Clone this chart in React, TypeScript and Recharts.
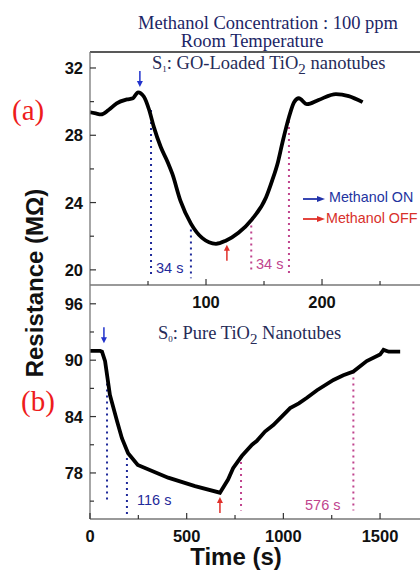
import React from 'react';
import { LineChart, Line, XAxis, YAxis, ReferenceLine, ReferenceDot } from 'recharts';

// (a) S1: GO-loaded TiO2 nanotubes, time (s) vs resistance (MOhm)
const timeA = [0, 5, 9.5, 16, 23, 32, 37, 41.4, 46.5, 51, 55, 61, 67, 71, 78, 87, 96.6, 108.6, 117, 128, 139.6, 151.7, 157, 162, 166, 171.6, 175.9, 180, 187, 197, 212, 223, 235];
const resA = [29.37, 29.3, 29.24, 29.5, 29.9, 30.13, 30.2, 30.55, 30.29, 29.5, 28.5, 27.3, 26.4, 25.7, 24.1, 22.75, 21.9, 21.55, 21.73, 22.2, 23.0, 24.3, 25.3, 26.4, 27.6, 29.1, 29.97, 30.2, 29.85, 30.1, 30.45, 30.33, 29.97];

// (b) S0: pure TiO2 nanotubes
const timeB = [0, 52, 62, 78, 103, 140, 165, 197, 247, 404, 543, 672, 714, 740, 785, 838, 862, 905, 948, 1035, 1080, 1122, 1174, 1259, 1310, 1362, 1431, 1500, 1518, 1545, 1604];
const resB = [91, 91, 90.9, 89.9, 86.3, 83.5, 81.7, 80.1, 78.85, 77.5, 76.6, 75.9, 77.3, 78.5, 79.8, 81.0, 81.4, 82.4, 83.1, 84.9, 85.4, 86.0, 86.8, 87.9, 88.4, 88.8, 89.9, 90.6, 91.1, 90.9, 90.9];

const ticksAy = [20, 22, 24, 26, 28, 30, 32];
const labelsAy = [20, 24, 28, 32];
const ticksAx = [50, 100, 150, 200, 250];
const labelsAx = [100, 200];
const ticksBy = [75, 78, 81, 84, 87, 90, 93, 96];
const labelsBy = [78, 84, 90, 96];
const ticksBx = [0, 250, 500, 750, 1000, 1250, 1500];
const labelsBx = [0, 500, 1000, 1500];

// dotted markers: [time, top, bottom]
const onLinesA = [[52.6, 29.5, 19.6], [87, 22.75, 19.5]];
const offLinesA = [[139, 23.0, 19.9], [171.5, 29.2, 19.6]];
const onLinesB = [[88, 88.8, 75.0], [191, 79.6, 73.5]];
const offLinesB = [[781, 79.8, 74.0], [1362, 88.8, 74.0]];

// arrow tips: [time, value]
const onArrowA = [43, 30.87];
const offArrowA = [118, 21.49];
const onArrowB = [72, 91.8];
const offArrowB = [672, 75.44];

// time labels: [time, value, text]
const gapLabelsA: [number, number, string][] = [[56.9, 20.12, '34 s'], [143.1, 20.36, '34 s']];
const gapLabelsB: [number, number, string][] = [[243, 75.12, '116 s'], [1112, 74.59, '576 s']];

const dataA = timeA.map((t, i) => ({ t, r: resA[i] }));
const dataB = timeB.map((t, i) => ({ t, r: resB[i] }));

const BLUE = '#1f2a9a';
const RED = '#e0302a';
const PINK = '#c0448e';
const AXIS = '#777';
const SANS = '"Liberation Sans", Arial, sans-serif';
const SERIF = '"Liberation Serif", "Times New Roman", serif';

const makeTick = (axis: 'x' | 'y', labeled: number[]) => (props: any) => {
  const { x, y, payload } = props;
  const major = labeled.includes(payload.value);
  const len = major ? 6 : 4;
  if (axis === 'y') {
    return (
      <g>
        <line x1={x} y1={y} x2={x + len} y2={y} stroke="#333" strokeWidth={1.2} />
        {major && (
          <text x={x - 7} y={y} textAnchor="end" dominantBaseline="central"
            fontFamily={SANS} fontWeight="bold" fontSize={16.5} fill="#111">{payload.value}</text>
        )}
      </g>
    );
  }
  return (
    <g>
      <line x1={x} y1={y} x2={x} y2={y - len} stroke="#333" strokeWidth={1.2} />
      {major && (
        <text x={x} y={y + 16.5} textAnchor="middle" dominantBaseline="central"
          fontFamily={SANS} fontWeight="bold" fontSize={16.5} fill="#111">{payload.value}</text>
      )}
    </g>
  );
};

const arrow = (color: string, dir: 'down' | 'up') => (props: any) => {
  const { cx, cy } = props;
  const s = dir === 'down' ? -1 : 1;
  return (
    <g>
      <line x1={cx} y1={cy + s * 16} x2={cx} y2={cy + s * 5} stroke={color} strokeWidth={1.5} />
      <polygon points={`${cx - 3},${cy + s * 6} ${cx + 3},${cy + s * 6} ${cx},${cy}`} fill={color} />
    </g>
  );
};

const gapText = (text: string, color: string) => (props: any) => (
  <text x={props.cx} y={props.cy} dominantBaseline="central" fontFamily={SANS} fontSize={14.5} fill={color}>{text}</text>
);

const dotted = (lines: number[][], color: string) =>
  lines.map(([x, y1, y2], i) => (
    <ReferenceLine key={color + i} segment={[{ x, y: y1 }, { x, y: y2 }]}
      stroke={color} strokeWidth={2} strokeDasharray="2 4" />
  ));

const abs = (extra: React.CSSProperties): React.CSSProperties => ({ position: 'absolute', whiteSpace: 'nowrap', lineHeight: 1, ...extra });

export default function App() {
  return (
    <div style={{ position: 'absolute', left: 0, top: 0, width: 420, height: 571, overflow: 'hidden', background: '#fff' }}>
      <div style={{ position: 'absolute', left: 0, top: 0 }}>
        <LineChart width={440} height={571} data={dataA} margin={{ top: 51, right: 0, bottom: 285, left: 89 }}>
          <XAxis dataKey="t" type="number" domain={[0, 301.7]} ticks={ticksAx} height={1}
            tickSize={0} tickMargin={0} tickLine={false} tick={makeTick('x', labelsAx)}
            axisLine={{ stroke: AXIS, strokeWidth: 1.3 }} allowDataOverflow />
          <XAxis xAxisId="top" orientation="top" dataKey="t" type="number" domain={[0, 301.7]} height={1}
            tick={false} tickLine={false} axisLine={{ stroke: '#222', strokeWidth: 1.5 }} />
          <YAxis type="number" domain={[19.1, 32.95]} ticks={ticksAy} width={1}
            tickSize={0} tickMargin={0} tickLine={false} tick={makeTick('y', labelsAy)}
            axisLine={{ stroke: AXIS, strokeWidth: 1.3 }} allowDataOverflow />
          {dotted(onLinesA, BLUE)}
          {dotted(offLinesA, PINK)}
          <Line dataKey="r" type="monotone" stroke="#000" strokeWidth={3.8} dot={false} isAnimationActive={false} />
          <ReferenceDot x={onArrowA[0]} y={onArrowA[1]} shape={arrow('#2233cc', 'down')} />
          <ReferenceDot x={offArrowA[0]} y={offArrowA[1]} shape={arrow(RED, 'up')} />
          {gapLabelsA.map(([x, y, s], i) => (
            <ReferenceDot key={i} x={x} y={y} shape={gapText(s, i === 0 ? BLUE : PINK)} />
          ))}
        </LineChart>
      </div>
      <div style={{ position: 'absolute', left: 0, top: 0 }}>
        <LineChart width={440} height={571} data={dataB} margin={{ top: 285, right: 0, bottom: 51, left: 89 }}>
          <XAxis dataKey="t" type="number" domain={[0, 1810]} ticks={ticksBx} height={1}
            tickSize={0} tickMargin={0} tickLine={false} tick={makeTick('x', labelsBx)}
            axisLine={{ stroke: AXIS, strokeWidth: 1.3 }} allowDataOverflow />
          <YAxis type="number" domain={[73.1, 98.0]} ticks={ticksBy} width={1}
            tickSize={0} tickMargin={0} tickLine={false} tick={makeTick('y', labelsBy)}
            axisLine={{ stroke: AXIS, strokeWidth: 1.3 }} allowDataOverflow />
          {dotted(onLinesB, BLUE)}
          {dotted(offLinesB, PINK)}
          <Line dataKey="r" type="linear" stroke="#000" strokeWidth={3.8} dot={false} isAnimationActive={false} />
          <ReferenceDot x={onArrowB[0]} y={onArrowB[1]} shape={arrow('#2233cc', 'down')} />
          <ReferenceDot x={offArrowB[0]} y={offArrowB[1]} shape={arrow(RED, 'up')} />
          {gapLabelsB.map(([x, y, s], i) => (
            <ReferenceDot key={i} x={x} y={y} shape={gapText(s, i === 0 ? BLUE : PINK)} />
          ))}
        </LineChart>
      </div>

      {/* titles */}
      <div style={abs({ left: 268, top: 23, transform: 'translate(-50%, -50%)', fontFamily: SERIF, fontSize: 18.5, color: '#1c2566' })}>
        Methanol Concentration : 100 ppm
      </div>
      <div style={abs({ left: 252, top: 41, transform: 'translate(-50%, -50%)', fontFamily: SERIF, fontSize: 18.5, color: '#1c2566' })}>
        Room Temperature
      </div>
      <div style={abs({ left: 152, top: 65, transform: 'translateY(-50%)', fontFamily: SERIF, fontSize: 18.5, color: '#262b58' })}>
        S<span style={{ fontSize: 9, verticalAlign: -3 }}>1</span>: GO-Loaded TiO<span style={{ fontSize: 15, verticalAlign: -5 }}>2</span> nanotubes
      </div>
      <div style={abs({ left: 158, top: 335, transform: 'translateY(-50%)', fontFamily: SERIF, fontSize: 18.5, color: '#262b58' })}>
        S<span style={{ fontSize: 9, verticalAlign: -3 }}>0</span>: Pure TiO<span style={{ fontSize: 15, verticalAlign: -5 }}>2</span> Nanotubes
      </div>
      <div style={abs({ left: 12, top: 110, transform: 'translateY(-50%)', fontFamily: SERIF, fontSize: 29, color: '#ee1c1c' })}>(a)</div>
      <div style={abs({ left: 21, top: 401, transform: 'translateY(-50%)', fontFamily: SERIF, fontSize: 29, color: '#ee1c1c' })}>(b)</div>

      {/* legend */}
      <svg style={{ position: 'absolute', left: 301, top: 193 }} width={26} height={30}>
        <line x1={2} y1={6} x2={18} y2={6} stroke="#2233aa" strokeWidth={1.8} />
        <polygon points="16,3 24,6 16,9" fill="#2233aa" />
        <line x1={2} y1={26} x2={18} y2={26} stroke={RED} strokeWidth={1.8} />
        <polygon points="16,23 24,26 16,29" fill={RED} />
      </svg>
      <div style={abs({ left: 329, top: 197, transform: 'translateY(-50%)', fontFamily: SANS, fontSize: 14.3, color: '#2233a0' })}>Methanol ON</div>
      <div style={abs({ left: 326, top: 218, transform: 'translateY(-50%)', fontFamily: SANS, fontSize: 14.3, color: '#d8302a' })}>Methanol OFF</div>

      {/* axis titles */}
      <div style={abs({ left: 35, top: 283, transform: 'translate(-50%, -50%) rotate(-90deg)', fontFamily: SANS, fontWeight: 'bold', fontSize: 24, color: '#111' })}>
        Resistance (MΩ)
      </div>
      <div style={abs({ left: 236, top: 557, transform: 'translate(-50%, -50%)', fontFamily: SANS, fontWeight: 'bold', fontSize: 24, color: '#111' })}>
        Time (s)
      </div>
    </div>
  );
}
